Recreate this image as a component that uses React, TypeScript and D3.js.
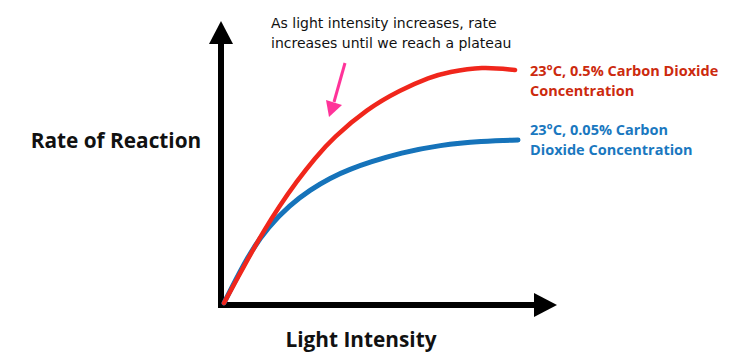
import * as d3 from "d3";
import { useRef, useEffect } from "react";

// light intensity (0-100) vs rate of reaction (0-100)
const redX = [0, 4.8, 9.2, 14, 18.4, 24.8, 31, 37.1, 48.6, 59.9, 70.1, 76.2, 87.8, 99];
const redY = [0, 10, 19.2, 28.5, 36.5, 46.9, 55.8, 63.5, 74.6, 81.9, 86.9, 88.8, 91, 89.6];
const blueX = [0, 4.1, 9.2, 15, 22.4, 29.3, 36.1, 42.9, 49.7, 59.9, 73.5, 87.8, 100];
const blueY = [0, 9.2, 20, 29.2, 37.7, 43.5, 48.1, 51.5, 54.2, 57.7, 60.8, 62.3, 62.7];

const redLabel = ["23\u00B0C, 0.5% Carbon Dioxide", "Concentration"];
const blueLabel = ["23\u00B0C, 0.05% Carbon", "Dioxide Concentration"];
const note = ["As light intensity increases, rate", "increases until we reach a plateau"];

const W = 739, H = 361;

const App = () => {
    const chartRef = useRef(null);

    useEffect(() => {
        const svg = d3.select(chartRef.current);
        svg.selectAll('*').remove();

        const x = d3.scaleLinear().domain([0, 100]).range([224, 518]);
        const y = d3.scaleLinear().domain([0, 100]).range([303, 43]);

        const defs = svg.append('defs');
        defs.append('filter').attr('id', 'soft')
            .append('feGaussianBlur').attr('stdDeviation', 0.6);

        // axes
        svg.append('line')
           .attr('x1', 221).attr('y1', 308).attr('x2', 221).attr('y2', 40)
           .attr('stroke', '#000').attr('stroke-width', 6);
        svg.append('path')
           .attr('d', 'M209,44 L221,21 L233,44 Z')
           .attr('fill', '#000');
        svg.append('line')
           .attr('x1', 218).attr('y1', 305).attr('x2', 537).attr('y2', 305)
           .attr('stroke', '#000').attr('stroke-width', 6);
        svg.append('path')
           .attr('d', 'M534,293 L557,305 L534,317 Z')
           .attr('fill', '#000');

        // basis curve to smooth out reading noise
        const line = d3.line<number>()
            .x((d, i) => x(d))
            .curve(d3.curveBasis);

        svg.append('path')
           .attr('d', line.y((d, i) => y(blueY[i]))(blueX))
           .attr('fill', 'none')
           .attr('stroke', '#1273ba')
           .attr('stroke-width', 5)
           .attr('stroke-linecap', 'round')
           .attr('filter', 'url(#soft)');

        svg.append('path')
           .attr('d', line.y((d, i) => y(redY[i]))(redX))
           .attr('fill', 'none')
           .attr('stroke', '#f0261a')
           .attr('stroke-width', 4.5)
           .attr('stroke-linecap', 'round')
           .attr('filter', 'url(#soft)');

        // pink pointer
        svg.append('line')
           .attr('x1', 345).attr('y1', 63).attr('x2', 334).attr('y2', 102)
           .attr('stroke', '#ff3399').attr('stroke-width', 3);
        svg.append('path')
           .attr('d', 'M326,100 L329,117 L342,105 Z')
           .attr('fill', '#ff3399');

        svg.append('g')
           .selectAll('text')
           .data(note)
           .enter()
           .append('text')
           .attr('x', 271)
           .attr('y', (d, i) => 28 + i * 20)
           .attr('font-family', 'DejaVu Sans')
           .attr('font-size', 14)
           .attr('fill', '#111')
           .text(d => d);

        const label = (lines, yy, color) => {
            svg.append('g')
               .selectAll('text')
               .data(lines)
               .enter()
               .append('text')
               .attr('x', 530)
               .attr('y', (d, i) => yy + i * 19.5)
               .attr('font-family', 'Open Sans')
               .attr('font-weight', 'bold')
               .attr('font-size', 14.5)
               .attr('fill', color)
               .text(d => d);
        };
        label(redLabel, 76, '#cc2a0e');
        label(blueLabel, 135, '#1a78c0');

        svg.append('text')
           .attr('x', 116).attr('y', 148)
           .attr('text-anchor', 'middle')
           .attr('font-family', 'Open Sans')
           .attr('font-weight', 'bold')
           .attr('font-size', 20.8)
           .attr('fill', '#111')
           .text('Rate of Reaction');

        svg.append('text')
           .attr('x', 361).attr('y', 347)
           .attr('text-anchor', 'middle')
           .attr('font-family', 'Open Sans')
           .attr('font-weight', 'bold')
           .attr('font-size', 20.8)
           .attr('fill', '#111')
           .text('Light Intensity');
    }, []);

    return (
        <svg ref={chartRef} width={W} height={H}
             style={{ position: 'absolute', left: 0, top: 0, background: '#fff' }}></svg>
    );
};

export default App;
